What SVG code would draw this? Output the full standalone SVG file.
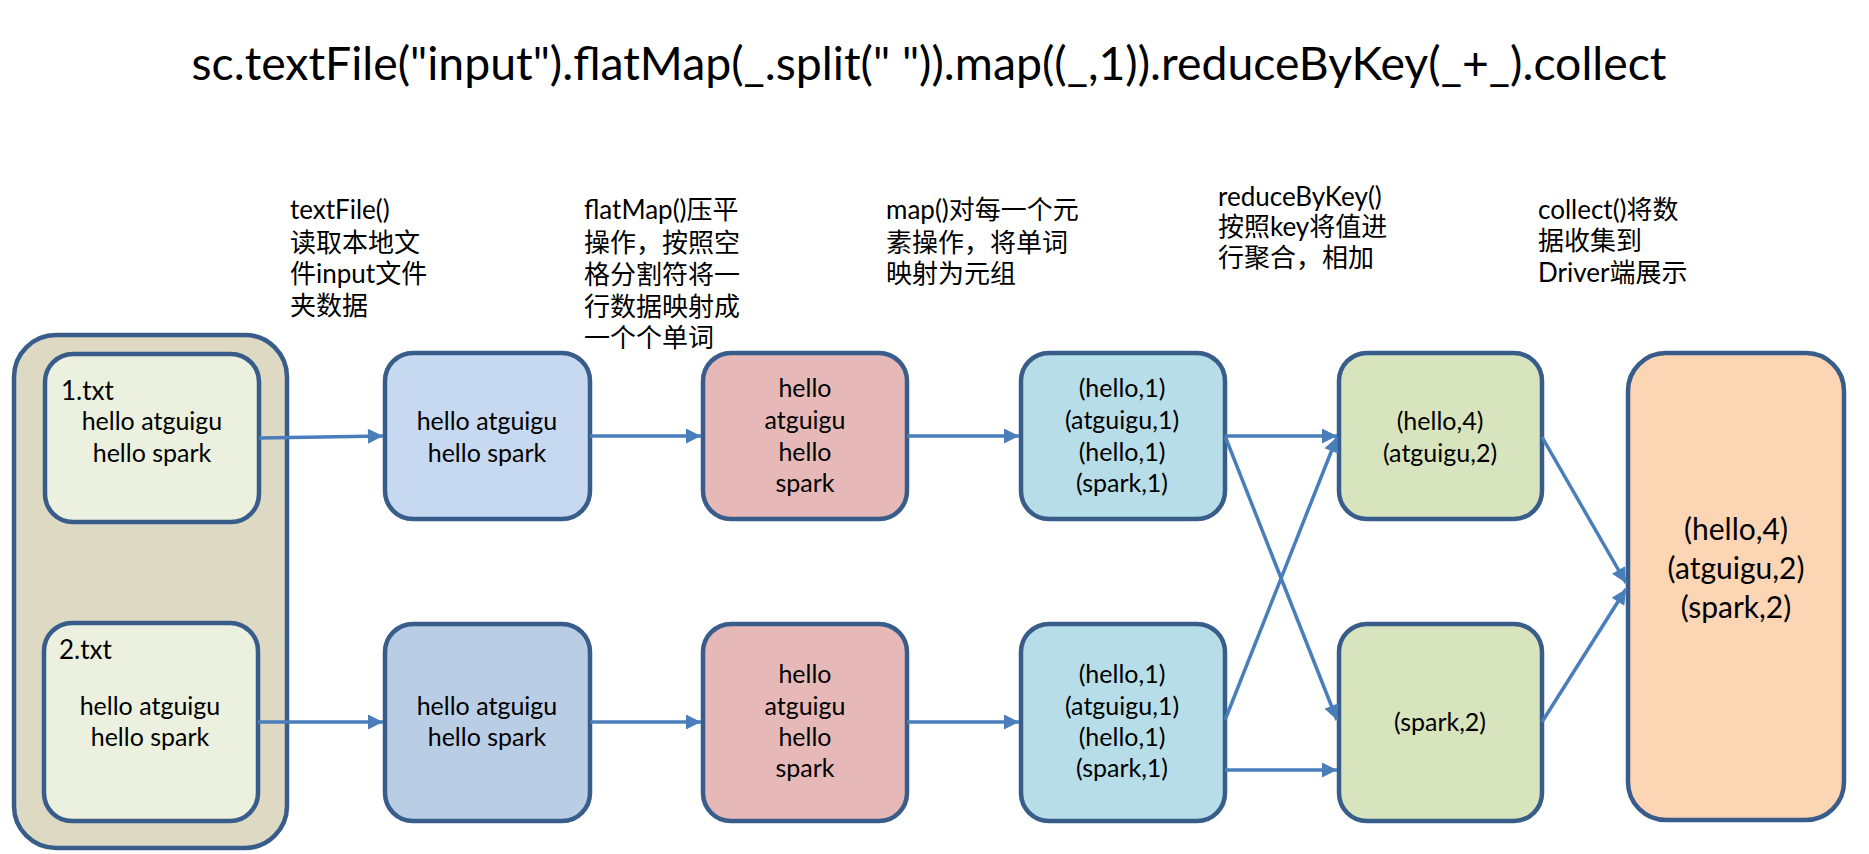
<svg xmlns="http://www.w3.org/2000/svg" width="1869" height="854" viewBox="0 0 1869 854">
<style>
.bx{stroke:#385d8a;stroke-width:4.5}
.t{font-family:Lato,"Noto Sans CJK SC",sans-serif;font-size:25px;fill:#000;text-anchor:middle}
.lb{font-family:Lato,"Noto Sans CJK SC",sans-serif;font-size:26px;fill:#000}
.big{font-family:Lato,"Noto Sans CJK SC",sans-serif;font-size:30px;fill:#000;text-anchor:middle}
.c{stroke:#4a7ebb;stroke-width:3.5;fill:none;marker-end:url(#ah)}
</style>
<defs>
<marker id="ah" viewBox="0 0 10 10" refX="10" refY="5" markerWidth="17" markerHeight="15" markerUnits="userSpaceOnUse" orient="auto">
<path d="M0,0 L10,5 L0,10 z" fill="#4a7ebb"/>
</marker>
</defs>
<rect width="1869" height="854" fill="#fff"/>
<text id="title" x="929" y="80" font-family="Lato,sans-serif" font-size="46" text-anchor="middle" textLength="1475" lengthAdjust="spacingAndGlyphs">sc.textFile("input").flatMap(_.split(" ")).map((_,1)).reduceByKey(_+_).collect</text>

<g id="labels">
<text class="lb" x="290" y="219">textFile()</text>
<text class="lb" x="290" y="252">读取本地文</text>
<text class="lb" x="290" y="283">件input文件</text>
<text class="lb" x="290" y="315">夹数据</text>
<text class="lb" x="584" y="219">flatMap()压平</text>
<text class="lb" x="584" y="252">操作，按照空</text>
<text class="lb" x="584" y="284">格分割符将一</text>
<text class="lb" x="584" y="316">行数据映射成</text>
<text class="lb" x="584" y="347">一个个单词</text>
<text class="lb" x="886" y="219">map()对每一个元</text>
<text class="lb" x="886" y="252">素操作，将单词</text>
<text class="lb" x="886" y="283">映射为元组</text>
<text class="lb" x="1218" y="206">reduceByKey()</text>
<text class="lb" x="1218" y="236">按照key将值进</text>
<text class="lb" x="1218" y="267">行聚合，相加</text>
<text class="lb" x="1538" y="219">collect()将数</text>
<text class="lb" x="1538" y="250">据收集到</text>
<text class="lb" x="1538" y="282">Driver端展示</text>
</g>

<g id="input">
<rect class="bx" x="14" y="335" width="273" height="513" rx="42" fill="#ddd9c3"/>
</g>
<g id="file1">
<rect class="bx" x="45" y="354" width="214" height="168" rx="28" fill="#ebf1de"/>
<text class="lb" x="61" y="400" font-size="25">1.txt</text>
<text class="t" x="152" y="430">hello atguigu</text>
<text class="t" x="152" y="462">hello spark</text>
</g>
<g id="file2">
<rect class="bx" x="44" y="623" width="214" height="198" rx="28" fill="#ebf1de"/>
<text class="lb" x="59" y="659" font-size="25">2.txt</text>
<text class="t" x="150" y="715">hello atguigu</text>
<text class="t" x="150" y="746">hello spark</text>
</g>
<g id="lines1">
<rect class="bx" x="385" y="353" width="205" height="166" rx="28" fill="#c6d9f1"/>
<text class="t" x="487" y="430">hello atguigu</text>
<text class="t" x="487" y="462">hello spark</text>
</g>
<g id="lines2">
<rect class="bx" x="385" y="624" width="205" height="197" rx="28" fill="#b9cde5"/>
<text class="t" x="487" y="715">hello atguigu</text>
<text class="t" x="487" y="746">hello spark</text>
</g>
<g id="words1">
<rect class="bx" x="703" y="353" width="204" height="166" rx="28" fill="#e6b9b8"/>
<text class="t" x="805" y="397">hello</text>
<text class="t" x="805" y="429">atguigu</text>
<text class="t" x="805" y="461">hello</text>
<text class="t" x="805" y="492">spark</text>
</g>
<g id="words2">
<rect class="bx" x="703" y="624" width="204" height="197" rx="28" fill="#e6b9b8"/>
<text class="t" x="805" y="683">hello</text>
<text class="t" x="805" y="715">atguigu</text>
<text class="t" x="805" y="746">hello</text>
<text class="t" x="805" y="777">spark</text>
</g>
<g id="tuples1">
<rect class="bx" x="1021" y="353" width="204" height="166" rx="28" fill="#b7dee8"/>
<text class="t" x="1122" y="397">(hello,1)</text>
<text class="t" x="1122" y="429">(atguigu,1)</text>
<text class="t" x="1122" y="461">(hello,1)</text>
<text class="t" x="1122" y="492">(spark,1)</text>
</g>
<g id="tuples2">
<rect class="bx" x="1021" y="624" width="204" height="197" rx="28" fill="#b7dee8"/>
<text class="t" x="1122" y="683">(hello,1)</text>
<text class="t" x="1122" y="715">(atguigu,1)</text>
<text class="t" x="1122" y="746">(hello,1)</text>
<text class="t" x="1122" y="777">(spark,1)</text>
</g>
<g id="reduced1">
<rect class="bx" x="1339" y="353" width="203" height="166" rx="28" fill="#d7e4bd"/>
<text class="t" x="1440" y="430">(hello,4)</text>
<text class="t" x="1440" y="462">(atguigu,2)</text>
</g>
<g id="reduced2">
<rect class="bx" x="1339" y="624" width="203" height="197" rx="28" fill="#d7e4bd"/>
<text class="t" x="1440" y="731">(spark,2)</text>
</g>
<g id="result">
<rect class="bx" x="1628" y="353" width="216" height="467" rx="38" fill="#fcd5b5"/>
<text class="big" x="1736" y="540">(hello,4)</text>
<text class="big" x="1736" y="579">(atguigu,2)</text>
<text class="big" x="1736" y="618">(spark,2)</text>
</g>

<g id="connectors">
<line class="c" x1="259" y1="438" x2="383" y2="436"/>
<line class="c" x1="258" y1="722" x2="383" y2="722"/>
<line class="c" x1="590" y1="436" x2="701" y2="436"/>
<line class="c" x1="590" y1="722" x2="701" y2="722"/>
<line class="c" x1="907" y1="436" x2="1019" y2="436"/>
<line class="c" x1="907" y1="722" x2="1019" y2="722"/>
<line class="c" x1="1225" y1="436" x2="1337" y2="436"/>
<line class="c" x1="1225" y1="436" x2="1337" y2="720"/>
<line class="c" x1="1225" y1="720" x2="1337" y2="437"/>
<line class="c" x1="1225" y1="770" x2="1337" y2="770"/>
<line class="c" x1="1542" y1="437" x2="1626" y2="583"/>
<line class="c" x1="1542" y1="722" x2="1626" y2="589"/>
</g>
</svg>
